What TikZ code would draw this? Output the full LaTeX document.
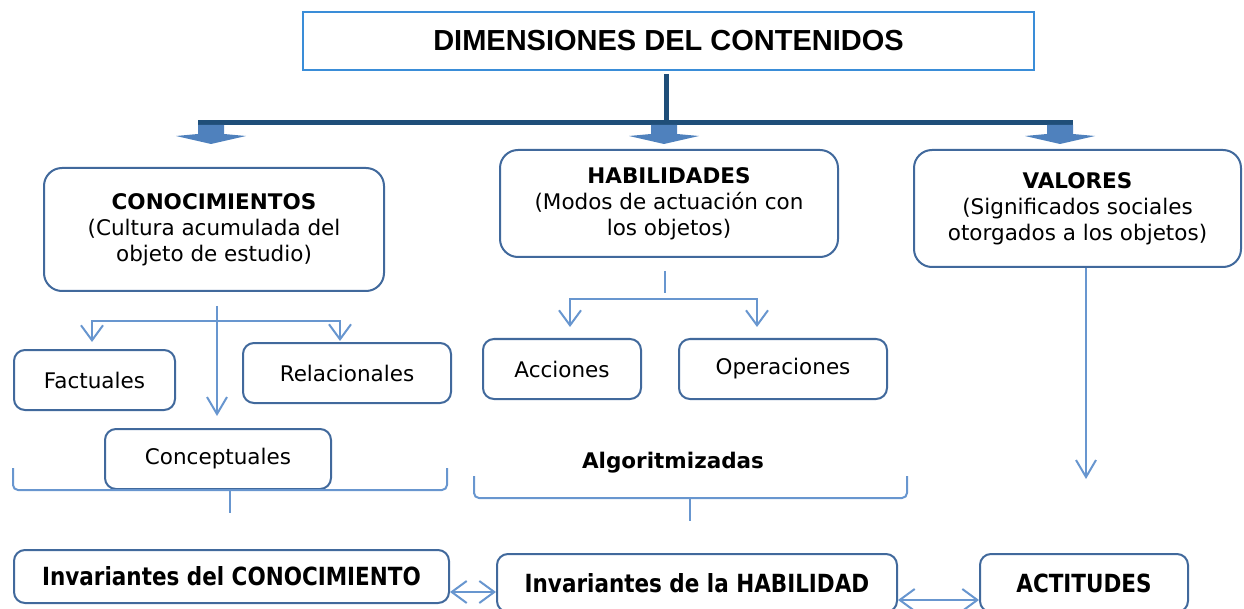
\documentclass[tikz,border=0pt]{standalone}
\usepackage{fontspec}
\setmainfont{DejaVu Sans}
\newfontfamily\titlefont{Liberation Sans}
\newfontfamily\bottomfont[FakeStretch=0.86]{DejaVu Sans}
\usetikzlibrary{arrows.meta,calc}
\definecolor{boxblue}{HTML}{41699C}
\definecolor{lineblue}{HTML}{6896CF}
\definecolor{titleblue}{HTML}{3A8DD8}
\definecolor{barblue}{HTML}{1F4E79}
\definecolor{arrowblue}{HTML}{4F81BD}
\tikzstyle{titlebox}=[rectangle,draw=titleblue,line width=2pt,inner sep=0pt,font=\titlefont\fontsize{29}{34}\selectfont\bfseries]
\tikzstyle{mainbox}=[rectangle,rounded corners=18pt,draw=boxblue,line width=2pt,inner sep=0pt,align=center,font=\fontsize{21.5}{26}\selectfont]
\tikzstyle{subbox}=[rectangle,rounded corners=11pt,draw=boxblue,line width=2pt,inner sep=0pt,minimum height=60pt,font=\fontsize{21.5}{26}\selectfont]
\tikzstyle{endbox}=[rectangle,rounded corners=11pt,draw=boxblue,line width=2pt,inner sep=0pt,font=\bottomfont\fontsize{25}{30}\selectfont\bfseries]
\tikzstyle{barline}=[draw=barblue,line width=5pt]
\tikzstyle{link} = [draw=lineblue,line width=2pt]
\tikzstyle{arrowlink} = [link,-{Straight Barb[length=17pt,width=20pt]}]
\tikzstyle{twolink} = [link,{Straight Barb[length=15pt,width=22pt]}-{Straight Barb[length=15pt,width=22pt]}]

\begin{document}
\begin{tikzpicture}[x=1pt,y=-1pt]
\useasboundingbox (0,0) rectangle (1244,609);

% Title
\node[titlebox,minimum width=731pt,minimum height=58pt] (title) at (668.5,41) {DIMENSIONES DEL CONTENIDOS};

% bar with block arrows
\coordinate (barL) at (198,122.5);
\coordinate (barR) at (1073,122.5);
\draw[barline] ([xshift=-2.5pt,yshift=-3pt]title.south) -- ([xshift=-2.5pt]title.south |- barL);
\draw[barline] (barL) -- (barR);
\foreach \c in {211,664,1060}
    \fill[arrowblue] (\c-13,125) -- (\c+13,125) -- (\c+13,134) -- (\c+35,136) -- (\c,144) -- (\c-35,136) -- (\c-13,134) -- cycle;

%layer 1
\node[mainbox,minimum width=340pt,minimum height=123pt] (con) at (214,229.5) {\textbf{CONOCIMIENTOS}\\(Cultura acumulada del\\objeto de estudio)};
\node[mainbox,minimum width=338pt,minimum height=107pt] (hab) at (669,203.5) {\textbf{HABILIDADES}\\(Modos de actuación con\\los objetos)};
\node[mainbox,minimum width=327pt,minimum height=117pt] (val) at (1077.5,208.5) {\textbf{VALORES}\\(Significados sociales\\otorgados a los objetos)};

%layer 2
\node[subbox,minimum width=161pt] (fac) at (94.5,380) {Factuales};
\node[subbox,minimum width=208pt] (rel) at (347,373) {Relacionales};
\node[subbox,minimum width=226pt] (cpt) at (218,459) {Conceptuales};
\node[subbox,minimum width=158pt] (acc) at (562,369) {Acciones};
\node[subbox,minimum width=208pt] (ope) at (783,369) {Operaciones};
\node[font=\fontsize{21.5}{26}\selectfont\bfseries] (alg) at (673,463) {Algoritmizadas};

%layer 3
\node[endbox,minimum width=435pt,minimum height=53pt] (inc) at (231.5,576.5) {Invariantes del CONOCIMIENTO};
\node[endbox,minimum width=400pt,minimum height=58pt] (inh) at (697,583) {Invariantes de la HABILIDAD};
\node[endbox,minimum width=208pt,minimum height=58pt] (act) at (1084,583) {ACTITUDES};

% connectors
\coordinate (cfork) at (217,321);
\draw[arrowlink] ([xshift=3pt,yshift=-14pt]con.south) -- ([xshift=-1pt,yshift=12pt]cpt.north);
\draw[twolink] ([xshift=-2.5pt,yshift=7pt]fac.north) |- (cfork) -| ([xshift=-7pt,yshift=1pt]rel.north);
\coordinate (hfork) at (665,299);
\draw[link] ([xshift=-4pt,yshift=-13pt]hab.south) -- ([yshift=6pt]hfork);
\draw[twolink] ([xshift=8pt,yshift=11pt]acc.north) |- (hfork) -| ([xshift=-26pt,yshift=11pt]ope.north);
\draw[arrowlink] ([xshift=8.5pt]val.south) -- ++(0,211);
\draw[twolink] ([yshift=-15.5pt]inc.east) -- ([yshift=-15.5pt]inc.east -| inh.west);
\draw[twolink] ([yshift=-17pt]inh.east) -- ([yshift=-17pt]inh.east -| act.west);

% braces
\draw[link,rounded corners=5pt] (13,468) -- (13,490) -- (447,490) -- (447,468);
\draw[link] (230,490) -- (230,513);
\draw[link,rounded corners=5pt] (474,476) -- (474,498) -- (907,498) -- (907,476);
\draw[link] (690,498) -- (690,521);

\end{tikzpicture}
\end{document}
